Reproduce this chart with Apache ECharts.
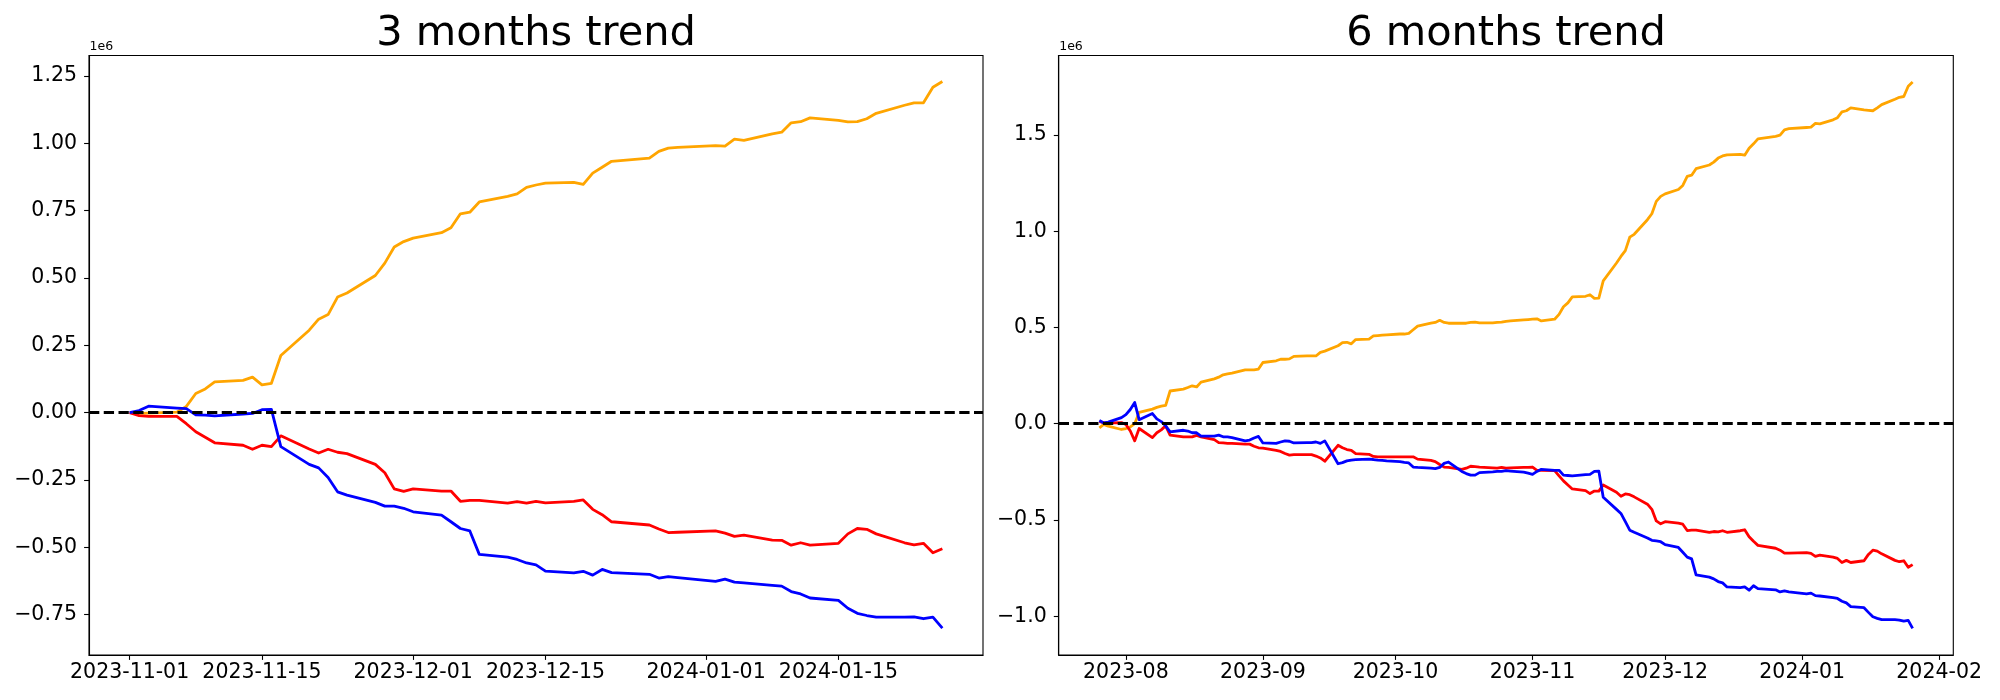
<!DOCTYPE html>
<html>
<head>
<meta charset="utf-8">
<script src="https://cdn.jsdelivr.net/npm/echarts@6/dist/echarts.min.js"></script>
<style>
  html, body { margin: 0; padding: 0; background: #fff; }
  #chart { width: 2000px; height: 700px; }
</style>
</head>
<body>
<div id="chart"></div>
<script>
// ---- 3 months trend (values in units of 1e6) ----
const dates3m = [
  '2023-11-01','2023-11-02','2023-11-03',
  '2023-11-06','2023-11-07','2023-11-08','2023-11-09','2023-11-10',
  '2023-11-13','2023-11-14','2023-11-15','2023-11-16','2023-11-17',
  '2023-11-20','2023-11-21','2023-11-22','2023-11-23','2023-11-24',
  '2023-11-27','2023-11-28','2023-11-29','2023-11-30',
  '2023-12-01',
  '2023-12-04','2023-12-05','2023-12-06','2023-12-07','2023-12-08',
  '2023-12-11','2023-12-12','2023-12-13','2023-12-14','2023-12-15',
  '2023-12-18','2023-12-19','2023-12-20','2023-12-21','2023-12-22',
  '2023-12-26','2023-12-27','2023-12-28','2023-12-29',
  '2024-01-02','2024-01-03','2024-01-04','2024-01-05',
  '2024-01-08','2024-01-09','2024-01-10','2024-01-11','2024-01-12',
  '2024-01-15','2024-01-16','2024-01-17','2024-01-18','2024-01-19',
  '2024-01-22','2024-01-23','2024-01-24','2024-01-25','2024-01-26'
];
const orange3m = [
  0.000, -0.003, -0.002,
  0.002, 0.023, 0.071, 0.088, 0.114,
  0.120, 0.132, 0.103, 0.109, 0.212,
  0.306, 0.347, 0.364, 0.429, 0.444,
  0.509, 0.555, 0.615, 0.635,
  0.648,
  0.668, 0.686, 0.738, 0.744, 0.782,
  0.803, 0.812, 0.836, 0.845, 0.852,
  0.855, 0.847, 0.889, 0.911, 0.933,
  0.945, 0.970, 0.982, 0.985,
  0.991, 0.989, 1.015, 1.011,
  1.035, 1.041, 1.076, 1.080, 1.094,
  1.085, 1.079, 1.080, 1.091, 1.111,
  1.141, 1.150, 1.150, 1.208, 1.229
];
const red3m = [
  0.000, -0.011, -0.014,
  -0.014, -0.041, -0.071, -0.091, -0.112,
  -0.121, -0.136, -0.121, -0.126, -0.086,
  -0.135, -0.150, -0.136, -0.147, -0.152,
  -0.192, -0.223, -0.283, -0.292,
  -0.283,
  -0.291, -0.291, -0.329, -0.326, -0.326,
  -0.336, -0.330, -0.336, -0.329, -0.335,
  -0.329, -0.324, -0.359, -0.379, -0.405,
  -0.417, -0.432, -0.445, -0.444,
  -0.439, -0.447, -0.459, -0.455,
  -0.473, -0.474, -0.492, -0.483, -0.492,
  -0.485, -0.450, -0.430, -0.433, -0.450,
  -0.483, -0.491, -0.485, -0.520, -0.505
];
const blue3m = [
  0.000, 0.008, 0.024,
  0.017, 0.015, -0.008, -0.009, -0.012,
  -0.005, -0.003, 0.011, 0.012, -0.126,
  -0.192, -0.205, -0.241, -0.294, -0.306,
  -0.333, -0.347, -0.347, -0.355,
  -0.368,
  -0.380, -0.405, -0.430, -0.439, -0.526,
  -0.536, -0.545, -0.558, -0.565, -0.588,
  -0.595, -0.589, -0.603, -0.582, -0.594,
  -0.600, -0.614, -0.609, -0.612,
  -0.626, -0.618, -0.629, -0.632,
  -0.641, -0.644, -0.664, -0.673, -0.688,
  -0.697, -0.726, -0.745, -0.753, -0.759,
  -0.759, -0.758, -0.765, -0.759, -0.800
];
const xTicks3m = ['2023-11-01','2023-11-15','2023-12-01','2023-12-15','2024-01-01','2024-01-15'];
const yTicks3m = [-0.75, -0.5, -0.25, 0, 0.25, 0.5, 0.75, 1.0, 1.25];

// ---- 6 months trend (values in units of 1e6) ----
const dates6m = [
  '2023-07-26','2023-07-27','2023-07-28','2023-07-31',
  '2023-08-01','2023-08-02','2023-08-03','2023-08-04',
  '2023-08-07','2023-08-08','2023-08-09','2023-08-10','2023-08-11',
  '2023-08-14','2023-08-15','2023-08-16','2023-08-17','2023-08-18',
  '2023-08-21','2023-08-22','2023-08-23','2023-08-24','2023-08-25',
  '2023-08-28','2023-08-29','2023-08-30','2023-08-31','2023-09-01',
  '2023-09-04','2023-09-05','2023-09-06','2023-09-07','2023-09-08',
  '2023-09-11','2023-09-12','2023-09-13','2023-09-14','2023-09-15',
  '2023-09-18','2023-09-19','2023-09-20','2023-09-21','2023-09-22',
  '2023-09-25','2023-09-26','2023-09-27','2023-09-28','2023-09-29',
  '2023-10-02','2023-10-03','2023-10-04','2023-10-05','2023-10-06',
  '2023-10-09','2023-10-10','2023-10-11','2023-10-12','2023-10-13',
  '2023-10-16','2023-10-17','2023-10-18','2023-10-19','2023-10-20',
  '2023-10-23','2023-10-24','2023-10-25','2023-10-26','2023-10-27',
  '2023-10-30','2023-10-31',
  '2023-11-01','2023-11-02','2023-11-03',
  '2023-11-06','2023-11-07','2023-11-08','2023-11-09','2023-11-10',
  '2023-11-13','2023-11-14','2023-11-15','2023-11-16','2023-11-17',
  '2023-11-20','2023-11-21','2023-11-22','2023-11-23','2023-11-24',
  '2023-11-27','2023-11-28','2023-11-29','2023-11-30',
  '2023-12-01',
  '2023-12-04','2023-12-05','2023-12-06','2023-12-07','2023-12-08',
  '2023-12-11','2023-12-12','2023-12-13','2023-12-14','2023-12-15',
  '2023-12-18','2023-12-19','2023-12-20','2023-12-21','2023-12-22',
  '2023-12-26','2023-12-27','2023-12-28','2023-12-29',
  '2024-01-02','2024-01-03','2024-01-04','2024-01-05',
  '2024-01-08','2024-01-09','2024-01-10','2024-01-11','2024-01-12',
  '2024-01-15','2024-01-16','2024-01-17','2024-01-18','2024-01-19',
  '2024-01-22','2024-01-23','2024-01-24','2024-01-25','2024-01-26'
];
const orange6m = [
  -0.021, -0.004, -0.013, -0.030,
  -0.025, -0.017, 0.000, 0.059,
  0.076, 0.085, 0.091, 0.095, 0.170,
  0.180, 0.188, 0.197, 0.191, 0.216,
  0.233, 0.242, 0.254, 0.259, 0.263,
  0.280, 0.280, 0.280, 0.284, 0.318,
  0.327, 0.335, 0.335, 0.337, 0.350,
  0.352, 0.352, 0.352, 0.371, 0.377,
  0.405, 0.421, 0.423, 0.415, 0.437,
  0.440, 0.456, 0.458, 0.460, 0.462,
  0.466, 0.466, 0.469, 0.488, 0.507,
  0.522, 0.526, 0.537, 0.526, 0.522,
  0.522, 0.522, 0.526, 0.528, 0.524,
  0.524, 0.526, 0.528, 0.532, 0.534,
  0.539, 0.541,
  0.543, 0.545, 0.534,
  0.543, 0.568, 0.608, 0.628, 0.659,
  0.662, 0.670, 0.651, 0.653, 0.742,
  0.835, 0.869, 0.899, 0.969, 0.984,
  1.060, 1.091, 1.155, 1.181,
  1.194,
  1.217, 1.238, 1.285, 1.291, 1.325,
  1.344, 1.359, 1.380, 1.391, 1.397,
  1.399, 1.395, 1.431, 1.454, 1.480,
  1.493, 1.499, 1.527, 1.533,
  1.539, 1.541, 1.560, 1.558,
  1.579, 1.590, 1.620, 1.626, 1.641,
  1.630, 1.628, 1.626, 1.641, 1.658,
  1.686, 1.696, 1.700, 1.753, 1.775
];
const red6m = [
  0.011, 0.006, 0.004, 0.006,
  -0.004, -0.038, -0.089, -0.025,
  -0.072, -0.047, -0.032, -0.011, -0.059,
  -0.068, -0.068, -0.068, -0.061, -0.068,
  -0.083, -0.098, -0.100, -0.102, -0.102,
  -0.106, -0.106, -0.117, -0.125, -0.127,
  -0.138, -0.144, -0.155, -0.163, -0.161,
  -0.161, -0.161, -0.168, -0.178, -0.195,
  -0.112, -0.125, -0.134, -0.138, -0.155,
  -0.159, -0.170, -0.172, -0.172, -0.172,
  -0.172, -0.172, -0.172, -0.172, -0.184,
  -0.191, -0.197, -0.212, -0.225, -0.227,
  -0.237, -0.231, -0.221, -0.223, -0.225,
  -0.229, -0.231, -0.227, -0.231, -0.229,
  -0.227, -0.227,
  -0.225, -0.242, -0.242,
  -0.244, -0.271, -0.297, -0.318, -0.339,
  -0.348, -0.363, -0.350, -0.350, -0.318,
  -0.356, -0.377, -0.365, -0.369, -0.380,
  -0.418, -0.445, -0.505, -0.520,
  -0.509,
  -0.517, -0.522, -0.555, -0.553, -0.553,
  -0.564, -0.560, -0.562, -0.556, -0.564,
  -0.556, -0.551, -0.587, -0.611, -0.632,
  -0.647, -0.657, -0.672, -0.672,
  -0.670, -0.674, -0.689, -0.683,
  -0.693, -0.700, -0.721, -0.710, -0.721,
  -0.712, -0.679, -0.657, -0.662, -0.676,
  -0.710, -0.717, -0.712, -0.746, -0.732
];
const blue6m = [
  0.017, 0.004, 0.008, 0.032,
  0.047, 0.074, 0.110, 0.021,
  0.053, 0.025, 0.011, -0.011, -0.042,
  -0.034, -0.038, -0.047, -0.047, -0.064,
  -0.064, -0.059, -0.068, -0.068, -0.072,
  -0.089, -0.085, -0.074, -0.066, -0.100,
  -0.102, -0.095, -0.089, -0.091, -0.100,
  -0.098, -0.098, -0.095, -0.102, -0.089,
  -0.208, -0.202, -0.193, -0.189, -0.187,
  -0.184, -0.186, -0.189, -0.191, -0.193,
  -0.197, -0.201, -0.204, -0.225, -0.227,
  -0.231, -0.233, -0.227, -0.206, -0.199,
  -0.248, -0.259, -0.267, -0.267, -0.254,
  -0.250, -0.248, -0.248, -0.244, -0.246,
  -0.252, -0.257,
  -0.263, -0.248, -0.237,
  -0.242, -0.242, -0.267, -0.269, -0.271,
  -0.265, -0.263, -0.248, -0.246, -0.382,
  -0.445, -0.466, -0.509, -0.553, -0.564,
  -0.594, -0.606, -0.609, -0.613,
  -0.628,
  -0.643, -0.668, -0.693, -0.702, -0.785,
  -0.797, -0.806, -0.820, -0.827, -0.848,
  -0.852, -0.848, -0.865, -0.842, -0.857,
  -0.863, -0.874, -0.869, -0.874,
  -0.884, -0.880, -0.893, -0.895,
  -0.903, -0.908, -0.922, -0.931, -0.950,
  -0.956, -0.980, -1.003, -1.011, -1.018,
  -1.018, -1.020, -1.026, -1.022, -1.063
];
const xTicks6m = ['2023-08-01','2023-09-01','2023-10-01','2023-11-01','2023-12-01','2024-01-01','2024-02-01'];
const yTicks6m = [-1.0, -0.5, 0, 0.5, 1.0, 1.5];

const titles = ['3 months trend', '6 months trend'];
const colors = { orange: '#FFA500', red: '#FF0000', blue: '#0000FF' };

// ---- helpers ----
const ts = s => { const [y, m, d] = s.split('-').map(Number); return new Date(y, m - 1, d).getTime(); };
const pad = n => String(n).padStart(2, '0');
const fmtDay = v => { const d = new Date(v); return d.getFullYear() + '-' + pad(d.getMonth() + 1) + '-' + pad(d.getDate()); };
const fmtMonth = v => { const d = new Date(v); return d.getFullYear() + '-' + pad(d.getMonth() + 1); };
const minus = s => s.replace('-', '\u2212');
const pair = (dates, vals) => dates.map((d, i) => [ts(d), vals[i]]);
function xRange(dates) {
  const a = ts(dates[0]), b = ts(dates[dates.length - 1]);
  const m = (b - a) * 0.05;
  return [a - m, b + m];
}

const FONT = 'DejaVu Sans';
const tickFont = 20.5;
const LW = 2.8;

const gridBase = { top: 55.5, bottom: 45, show: true, borderColor: '#000', borderWidth: 1.1, backgroundColor: 'transparent' };
const grids = [
  Object.assign({ left: 89, width: 894 }, gridBase),
  Object.assign({ left: 1058.7, width: 894.6 }, gridBase)
];

// date axis drawn as a linear value axis over timestamps
function xAxis(idx, dates, ticks, fmt) {
  const r = xRange(dates);
  const tv = ticks.map(ts);
  return {
    type: 'value', gridIndex: idx, min: r[0], max: r[1], scale: true,
    axisLine: { show: true, onZero: false, lineStyle: { color: '#000', width: 1.1 } },
    axisTick: { show: true, customValues: tv, length: 4.9, lineStyle: { color: '#000', width: 1.1 } },
    axisLabel: { show: true, customValues: tv, formatter: v => fmt(v), color: '#000', fontFamily: FONT, fontSize: tickFont, margin: 7, showMinLabel: true, showMaxLabel: true },
    splitLine: { show: false }
  };
}
function yAxis(idx, min, max, ticks, dec) {
  return {
    type: 'value', gridIndex: idx, min: min, max: max, scale: true,
    axisLine: { show: true, onZero: false, lineStyle: { color: '#000', width: 1.1 } },
    axisTick: { show: true, customValues: ticks, length: 4.9, lineStyle: { color: '#000', width: 1.1 } },
    axisLabel: { show: true, customValues: ticks, formatter: v => minus(Number(v).toFixed(dec)), color: '#000', fontFamily: FONT, fontSize: tickFont, margin: 12 },
    splitLine: { show: false }
  };
}
function line(idx, data, color, withZero) {
  const s = {
    type: 'line', xAxisIndex: idx, yAxisIndex: idx, data: data,
    showSymbol: false, symbol: 'none', smooth: false,
    lineStyle: { color: color, width: LW, join: 'round', cap: 'butt' },
    itemStyle: { color: color },
    emphasis: { disabled: true }, silent: true, z: 2
  };
  if (withZero) {
    s.markLine = {
      silent: true, symbol: ['none', 'none'], label: { show: false },
      lineStyle: { color: '#000', width: 2.78, type: [10.3, 4.45] },
      emphasis: { disabled: true },
      data: [{ yAxis: 0 }]
    };
  }
  return s;
}

const chart = echarts.init(document.getElementById('chart'), null, { renderer: 'canvas', width: 2000, height: 700 });
chart.setOption({
  animation: false,
  backgroundColor: '#fff',
  grid: grids,
  xAxis: [
    xAxis(0, dates3m, xTicks3m, fmtDay),
    xAxis(1, dates6m, xTicks6m, fmtMonth)
  ],
  yAxis: [
    yAxis(0, -0.8996, 1.3257, yTicks3m, 2),
    yAxis(1, -1.2016, 1.913, yTicks6m, 1)
  ],
  series: [
    line(0, pair(dates3m, orange3m), colors.orange),
    line(0, pair(dates3m, red3m), colors.red),
    line(0, pair(dates3m, blue3m), colors.blue, true),
    line(1, pair(dates6m, orange6m), colors.orange),
    line(1, pair(dates6m, red6m), colors.red),
    line(1, pair(dates6m, blue6m), colors.blue, true)
  ],
  graphic: [
    { type: 'text', x: 536, y: 34, silent: true,
      style: { text: titles[0], font: '41.5px "DejaVu Sans"', fill: '#000', textAlign: 'center', textVerticalAlign: 'middle' } },
    { type: 'text', x: 1506, y: 34, silent: true,
      style: { text: titles[1], font: '41.5px "DejaVu Sans"', fill: '#000', textAlign: 'center', textVerticalAlign: 'middle' } },
    { type: 'text', x: 89.5, y: 47, silent: true,
      style: { text: '1e6', font: '12.5px "DejaVu Sans"', fill: '#000', textAlign: 'left', textVerticalAlign: 'middle' } },
    { type: 'text', x: 1059.2, y: 47, silent: true,
      style: { text: '1e6', font: '12.5px "DejaVu Sans"', fill: '#000', textAlign: 'left', textVerticalAlign: 'middle' } }
  ]
});
</script>
</body>
</html>
